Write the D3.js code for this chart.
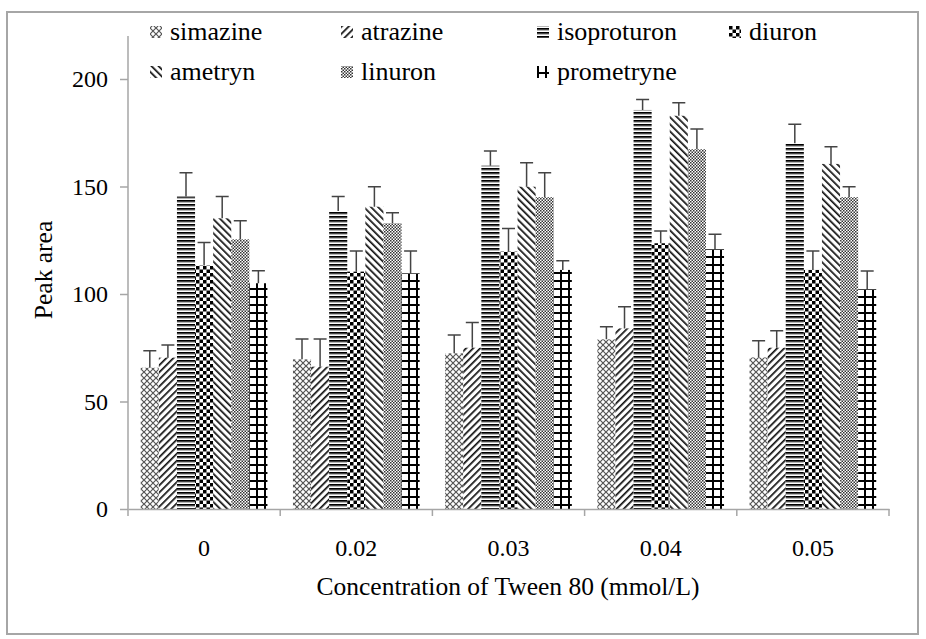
<meta charset="UTF-8">
<script src="https://d3js.org/d3.v7.min.js"></script>
<style>
  body { margin: 0; background: #fff; }
</style>
<div id="chart"></div>
<script>
// data
var categories = ["0", "0.02", "0.03", "0.04", "0.05"];
var seriesNames = ["simazine", "atrazine", "isoproturon", "diuron", "ametryn", "linuron", "prometryne"];
var simazine    = [65.7, 69.6, 72.4, 78.9, 70.5];
var atrazine    = [70.4, 66.2, 75.0, 84.0, 75.0];
var isoproturon = [145.3, 138.6, 159.7, 185.6, 170.1];
var diuron      = [113.2, 110.4, 119.7, 123.6, 111.2];
var ametryn     = [135.2, 140.6, 149.9, 182.9, 160.5];
var linuron     = [125.4, 132.9, 145.0, 167.3, 145.0];
var prometryne  = [105.0, 109.6, 111.2, 120.8, 102.2];
// upper error bars
var simazineErr    = [7.9, 9.5, 8.5, 5.9, 7.8];
var atrazineErr    = [5.9, 12.9, 11.7, 10.1, 7.9];
var isoproturonErr = [11.1, 6.7, 6.8, 4.9, 8.8];
var diuronErr      = [10.7, 9.6, 10.8, 5.7, 8.8];
var ametrynErr     = [10.1, 9.3, 11.2, 6.1, 8.0];
var linuronErr     = [8.7, 4.9, 11.4, 9.4, 4.9];
var prometryneErr  = [5.8, 10.4, 4.3, 7.0, 8.5];
var yTicks = [0, 50, 100, 150, 200];

var values = [simazine, atrazine, isoproturon, diuron, ametryn, linuron, prometryne];
var errors = [simazineErr, atrazineErr, isoproturonErr, diuronErr, ametrynErr, linuronErr, prometryneErr];

var serif = '"Liberation Serif", "Times New Roman", serif';
var W = 926, H = 639;
var svg = d3.select("#chart").append("svg").attr("width", W).attr("height", H);

// hatch patterns
var defs = svg.append("defs");
function pat(id, w, h, transform) {
  var p = defs.append("pattern").attr("id", id)
    .attr("patternUnits", "userSpaceOnUse").attr("width", w).attr("height", h);
  if (transform) p.attr("patternTransform", transform);
  p.append("rect").attr("width", w).attr("height", h).attr("fill", "#fff");
  return p;
}
// simazine: diagonal lattice
var p0 = pat("p0", 6, 6);
p0.append("path").attr("d", "M0,0L6,6M6,0L0,6").attr("stroke", "#555").attr("stroke-width", 1.2);
// atrazine: upward diagonal
var p1 = pat("p1", 5, 5, "rotate(45)");
p1.append("rect").attr("width", 1.7).attr("height", 5).attr("fill", "#111");
// isoproturon: horizontal lines
var p2 = pat("p2", 4, 4);
p2.append("rect").attr("width", 4).attr("height", 1.8).attr("fill", "#000");
p2.append("rect").attr("y", 1.8).attr("width", 4).attr("height", 0.8).attr("fill", "#888");
// diuron: checkerboard
var p3 = pat("p3", 7, 7);
p3.append("rect").attr("width", 3.5).attr("height", 3.5).attr("fill", "#000");
p3.append("rect").attr("x", 3.5).attr("y", 3.5).attr("width", 3.5).attr("height", 3.5).attr("fill", "#000");
// ametryn: downward diagonal
var p4 = pat("p4", 5, 5, "rotate(-45)");
p4.append("rect").attr("width", 1.7).attr("height", 5).attr("fill", "#111");
// linuron: fine checker, mid grey
var p5 = pat("p5", 3, 3);
p5.append("rect").attr("width", 1.5).attr("height", 1.5).attr("fill", "#333");
p5.append("rect").attr("x", 1.5).attr("y", 1.5).attr("width", 1.5).attr("height", 1.5).attr("fill", "#333");
// prometryne: grid
var p6 = pat("p6", 8, 8);
p6.append("path").attr("d", "M1,0V8M0,1H8").attr("stroke", "#000").attr("stroke-width", 2);

// outer frame
svg.append("rect").attr("x", 7).attr("y", 12).attr("width", 911).attr("height", 622)
  .attr("fill", "none").attr("stroke", "#a6a6a6").attr("stroke-width", 2);

// scales
var x0 = d3.scaleBand().domain(categories).range([128, 889]);
var x1 = d3.scaleBand().domain(seriesNames).range([0, x0.bandwidth()]).paddingOuter(0.705);
var y = d3.scaleLinear().domain([0, 220]).range([509, 36]);

// bars
var groups = svg.append("g").selectAll("g")
  .data(seriesNames).enter().append("g")
    .attr("fill", function(d, i) { return "url(#p" + i + ")"; });

groups.each(function(name, si) {
  var g = d3.select(this);
  var rows = categories.map(function(c, ci) { return { c: c, v: values[si][ci], e: errors[si][ci] }; });
  g.selectAll("rect").data(rows).enter().append("rect")
    .attr("x", function(d) { return x0(d.c) + x1(name); })
    .attr("y", function(d) { return y(d.v); })
    .attr("width", x1.bandwidth())
    .attr("height", function(d) { return y(0) - y(d.v); });

  // error bars (upper only)
  var eb = g.append("g").attr("stroke", "#444").attr("stroke-width", 1.5).attr("fill", "none");
  eb.selectAll("path").data(rows).enter().append("path")
    .attr("d", function(d) {
      var cx = x0(d.c) + x1(name) + x1.bandwidth() / 2;
      var top = y(d.v + d.e);
      return "M" + cx + "," + y(d.v) + "V" + top + "M" + (cx - 6.5) + "," + top + "H" + (cx + 6.5);
    });
});

// axes
var yAxis = svg.append("g").attr("transform", "translate(128,0)")
  .call(d3.axisLeft(y).tickValues(yTicks).tickSize(8).tickPadding(12).tickSizeOuter(0));
yAxis.select(".domain").attr("d", "M0," + y(220) + "V" + y(0));

var xAxis = svg.append("g").attr("transform", "translate(0,509)")
  .call(d3.axisBottom(x0).tickSize(0).tickPadding(30).tickSizeOuter(0));
xAxis.append("g").selectAll("line")
  .data(x0.domain().map(function(c) { return x0(c); }).concat([x0.range()[1]]))
  .enter().append("line")
    .attr("x1", function(d) { return d; }).attr("x2", function(d) { return d; })
    .attr("y1", 0).attr("y2", 7);

svg.selectAll(".domain, .tick line").attr("stroke", "#a6a6a6").attr("stroke-width", 1.5);
xAxis.selectAll("line").attr("stroke", "#a6a6a6").attr("stroke-width", 1.5);
svg.selectAll(".tick text").attr("fill", "#000")
  .style("font-family", serif).style("font-size", "24px");

// axis titles
svg.append("text").attr("x", 508).attr("y", 595).attr("text-anchor", "middle")
  .style("font-family", serif).style("font-size", "25.5px").text("Concentration of Tween 80 (mmol/L)");
svg.append("text").attr("transform", "translate(52,270) rotate(-90)").attr("text-anchor", "middle")
  .style("font-family", serif).style("font-size", "25.5px").text("Peak area");

// legend
var legCols = [150, 341, 537, 729];
var legRows = [40, 80];
var leg = svg.append("g").selectAll("g").data(seriesNames).enter().append("g")
  .attr("transform", function(d, i) { return "translate(" + legCols[i % 4] + "," + legRows[Math.floor(i / 4)] + ")"; });
leg.append("rect").attr("x", 0).attr("y", -14).attr("width", 12).attr("height", 12)
  .attr("fill", function(d, i) { return "url(#p" + i + ")"; });
leg.append("text").attr("x", 20).attr("y", 0)
  .style("font-family", serif).style("font-size", "26px").text(function(d) { return d; });
</script>
